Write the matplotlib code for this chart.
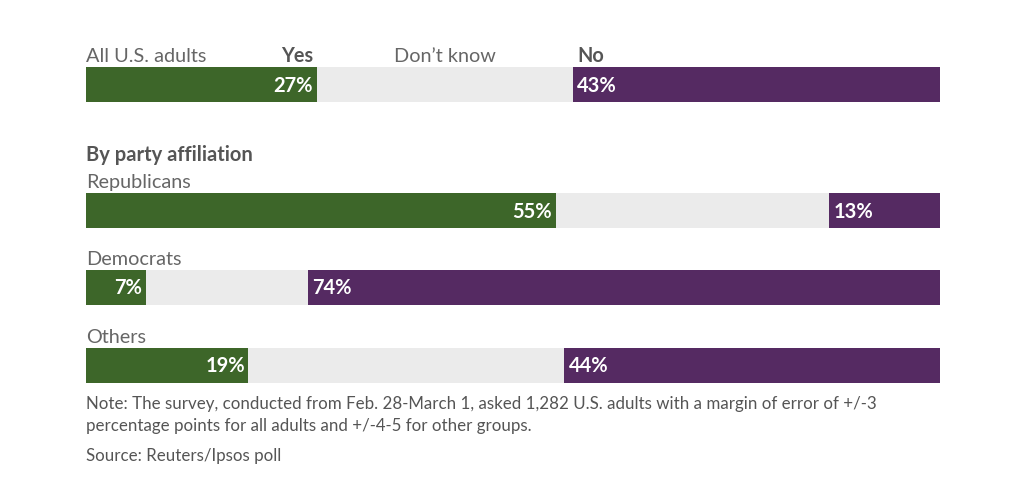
import matplotlib.pyplot as plt

groups = ["All U.S. adults", "Republicans", "Democrats", "Others"]
yes = [27, 55, 7, 19]
no = [43, 13, 74, 44]
dont_know = [100 - a - b for a, b in zip(yes, no)]

green = "#3d6629"
grey = "#ebebeb"
purple = "#552a62"
txt = "#666666"

plt.rcParams['font.family'] = ['Lato', 'DejaVu Sans']

W, H = 1024, 488
fig = plt.figure(figsize=(W / 100, H / 100), dpi=100)
x0, x1 = 86, 940
ax = fig.add_axes([x0 / W, 0, (x1 - x0) / W, 1])
ax.set_xlim(0, 100)
ax.set_ylim(H, 0)
ax.axis("off")

# bar centres in pixels from top
centres = [84.5, 210.5, 287.5, 365.5]
bh = 35

for i, c in enumerate(centres):
    ax.barh(c, yes[i], height=bh, color=green)
    ax.barh(c, dont_know[i], left=yes[i], height=bh, color=grey)
    ax.barh(c, no[i], left=100 - no[i], height=bh, color=purple)
    ax.text(yes[i] - 0.4, c + 1, f"{yes[i]}%", color="white", fontsize=14.5,
            fontweight="bold", ha="right", va="center")
    ax.text(100 - no[i] + 0.5, c + 1, f"{no[i]}%", color="white", fontsize=14.5,
            fontweight="bold", ha="left", va="center")
    if i > 0:
        ax.text(0, c - 28, groups[i], color=txt, fontsize=14.3, ha="left", va="center")

# header row
hy = 56.5
ax.text(0, hy, groups[0], color=txt, fontsize=14.3, ha="left", va="center")
ax.text(yes[0] - 0.4, hy, "Yes", color="#555555", fontsize=14.3, fontweight="bold",
        ha="right", va="center")
ax.text(yes[0] + dont_know[0] / 2, hy, "Don\u2019t know", color=txt, fontsize=14.3,
        ha="center", va="center")
ax.text(100 - no[0] + 0.5, hy, "No", color="#555555", fontsize=14.3, fontweight="bold",
        ha="left", va="center")

ax.text(0, 155, "By party affiliation", color="#555555", fontsize=14.5,
        fontweight="bold", ha="left", va="center")

ax.text(0, 404, "Note: The survey, conducted from Feb. 28-March 1, asked 1,282 U.S. adults with a margin of error of +/-3",
        color="#555555", fontsize=12.2, ha="left", va="center")
ax.text(0, 426, "percentage points for all adults and +/-4-5 for other groups.",
        color="#555555", fontsize=12.2, ha="left", va="center")
ax.text(0, 456, "Source: Reuters/Ipsos poll", color="#555555", fontsize=12.2,
        ha="left", va="center")

fig.savefig("out.png", dpi=100)
